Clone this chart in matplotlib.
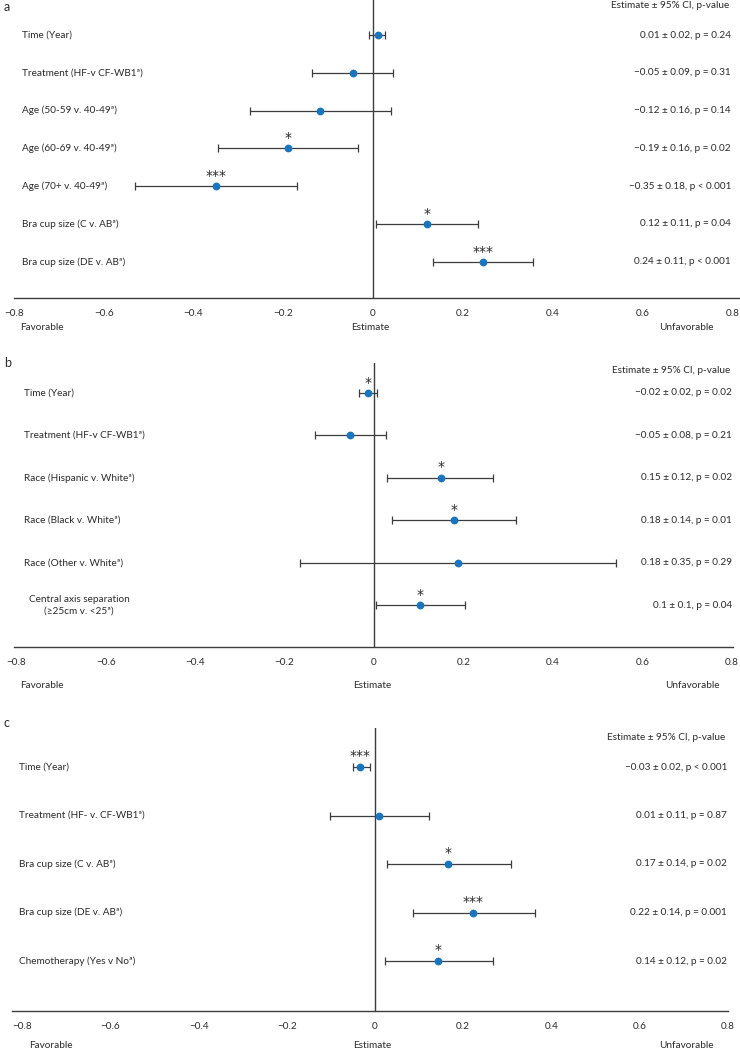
import matplotlib
matplotlib.use('Agg')
import matplotlib.pyplot as plt
from matplotlib import transforms

plt.rcParams['font.family'] = ['Lato', 'DejaVu Sans']

W, H = 740, 1050
TXT = '#2b2b2b'
LINE = '#3d3d3d'
BLUE = '#1b75bc'

# ---------------- data ----------------
a_labels = ["Time (Year)", "Treatment (HF-v CF-WB1ª)", "Age (50-59 v. 40-49ª)",
            "Age (60-69 v. 40-49ª)", "Age (70+ v. 40-49ª)",
            "Bra cup size (C v. ABª)", "Bra cup size (DE v. ABª)"]
a_est = [0.010, -0.045, -0.118, -0.189, -0.350, 0.120, 0.245]
a_lo = [-0.010, -0.136, -0.274, -0.345, -0.530, 0.007, 0.134]
a_hi = [0.027, 0.045, 0.040, -0.033, -0.170, 0.234, 0.356]
a_sig = ["", "", "", "*", "***", "*", "***"]
a_text = ["0.01 ± 0.02, p = 0.24", "−0.05 ± 0.09, p = 0.31", "−0.12 ± 0.16, p = 0.14",
          "−0.19 ± 0.16, p = 0.02", "−0.35 ± 0.18, p < 0.001", "0.12 ± 0.11, p = 0.04",
          "0.24 ± 0.11, p < 0.001"]

b_labels = ["Time (Year)", "Treatment (HF-v CF-WB1ª)", "Race (Hispanic v. Whiteª)",
            "Race (Black v. Whiteª)", "Race (Other v. Whiteª)",
            "Central axis separation\n(≥25cm v. <25ª)"]
b_est = [-0.013, -0.054, 0.150, 0.179, 0.188, 0.103]
b_lo = [-0.034, -0.132, 0.029, 0.040, -0.166, 0.004]
b_hi = [0.007, 0.027, 0.266, 0.318, 0.541, 0.204]
b_sig = ["*", "", "*", "*", "", "*"]
b_text = ["−0.02 ± 0.02, p = 0.02", "−0.05 ± 0.08, p = 0.21", "0.15 ± 0.12, p = 0.02",
          "0.18 ± 0.14, p = 0.01", "0.18 ± 0.35, p = 0.29", "0.1 ± 0.1, p = 0.04"]

c_labels = ["Time (Year)", "Treatment (HF- v. CF-WB1ª)", "Bra cup size (C v. ABª)",
            "Bra cup size (DE v. ABª)", "Chemotherapy (Yes v Noª)"]
c_est = [-0.034, 0.009, 0.165, 0.222, 0.143]
c_lo = [-0.050, -0.102, 0.027, 0.086, 0.023]
c_hi = [-0.011, 0.122, 0.308, 0.363, 0.268]
c_sig = ["***", "", "*", "***", "*"]
c_text = ["−0.03 ± 0.02, p < 0.001", "0.01 ± 0.11, p = 0.87", "0.17 ± 0.14, p = 0.02",
          "0.22 ± 0.14, p = 0.001", "0.14 ± 0.12, p = 0.02"]

xticks = [-0.8, -0.6, -0.4, -0.2, 0, 0.2, 0.4, 0.6, 0.8]
xticklabels = ["−0.8", "−0.6", "−0.4", "−0.2", "0", "0.2", "0.4", "0.6", "0.8"]
header = "Estimate ± 95% CI, p-value"

FS = 7.2

fig = plt.figure(figsize=(W / 100, H / 100), dpi=100)


def fx(x):
    return x / W


def fy(y):
    return 1 - y / H


def panel(letter, labels, est, lo, hi, sig, texts,
          left, right, top, bottom, x0px, scale, y0, dy,
          label_x, right_x, header_y, sub_y, sub_x, letter_y):
    ax = fig.add_axes([fx(left), fy(bottom), (right - left) / W, (bottom - top) / H])
    ax.set_xlim((left - x0px) / scale, (right - x0px) / scale)
    ax.set_ylim((bottom - y0) / dy, (top - y0) / dy)
    n = len(labels)
    ys = list(range(n))
    xerr = [[e - l for e, l in zip(est, lo)], [h - e for e, h in zip(est, hi)]]
    ax.errorbar(est, ys, xerr=xerr, fmt='none', ecolor=LINE, elinewidth=0.9,
                capsize=2.6, capthick=0.9, zorder=2)
    ax.plot(est, ys, 'o', color=BLUE, markersize=4.6, zorder=3)
    for e, yv, s in zip(est, ys, sig):
        if s:
            ax.text(e, yv - 0.08, s, ha='center', va='bottom', fontsize=10,
                    color=TXT, family='DejaVu Sans')
    ax.axvline(0, color=LINE, lw=1.0, zorder=1)
    for sp in ['top', 'right', 'left']:
        ax.spines[sp].set_visible(False)
    ax.spines['bottom'].set_color(LINE)
    ax.spines['bottom'].set_linewidth(1.0)
    ax.set_yticks([])
    ax.set_xticks(xticks)
    ax.set_xticklabels(xticklabels)
    ax.tick_params(axis='x', length=0, pad=8, labelsize=FS, labelcolor=TXT)
    tr = transforms.blended_transform_factory(fig.transFigure, ax.transData)
    for yv, lab in zip(ys, labels):
        if '\n' in lab:
            ax.text(fx(label_x + 55), yv, lab, transform=tr, ha='center', va='center',
                    fontsize=FS, color=TXT, linespacing=1.4)
        else:
            ax.text(fx(label_x), yv, lab, transform=tr, ha='left', va='center',
                    fontsize=FS, color=TXT)
    for yv, t in zip(ys, texts):
        ax.text(fx(right_x), yv, t, transform=tr, ha='right', va='center',
                fontsize=FS, color=TXT)
    fig.text(fx(right_x - 2), fy(header_y), header, ha='right', va='center',
             fontsize=FS, color=TXT)
    fig.text(fx(4), fy(letter_y), letter, ha='left', va='top',
             fontsize=9, color=TXT)
    for name, xx in zip(["Favorable", "Estimate", "Unfavorable"], sub_x):
        fig.text(fx(xx), fy(sub_y), name, ha='center', va='center',
                 fontsize=FS, color=TXT)
    return ax


panel('a', a_labels, a_est, a_lo, a_hi, a_sig, a_text,
      left=14, right=740, top=0, bottom=298, x0px=373, scale=449, y0=35, dy=37.8,
      label_x=22, right_x=731, header_y=5, sub_y=328, sub_x=[42, 370, 686], letter_y=1)
panel('b', b_labels, b_est, b_lo, b_hi, b_sig, b_text,
      left=14, right=733, top=363, bottom=647, x0px=374, scale=447, y0=393, dy=42.4,
      label_x=24, right_x=732, header_y=370, sub_y=685, sub_x=[42, 372, 692], letter_y=357)
panel('c', c_labels, c_est, c_lo, c_hi, c_sig, c_text,
      left=12, right=728, top=728, bottom=1011, x0px=375, scale=441, y0=767, dy=48.5,
      label_x=19, right_x=727, header_y=737, sub_y=1046, sub_x=[51, 372, 686], letter_y=717)

fig.savefig('out.png', dpi=100, facecolor='white')
